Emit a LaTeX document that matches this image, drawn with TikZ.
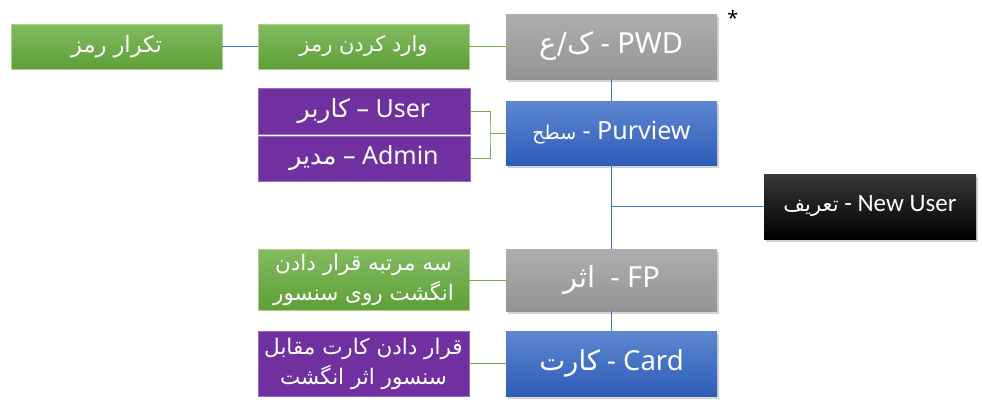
\documentclass[tikz,border=0pt]{standalone}
\usepackage{fontspec}
\setmainfont{Noto Sans}
\newfontfamily\arabicfont[Script=Arabic]{DejaVu Sans}
\newfontfamily\latinb{Carlito}
\TeXXeTstate=1
\usetikzlibrary{shadows,calc}
\newcommand{\ar}[1]{{\arabicfont\beginR #1\endR}}
\definecolor{gtop}{HTML}{82BB61}
\definecolor{gbot}{HTML}{5E9F37}
\definecolor{gbrd}{HTML}{A9D18E}
\definecolor{grtop}{HTML}{AEAEAE}
\definecolor{grbot}{HTML}{949494}
\definecolor{btop}{HTML}{5E87D1}
\definecolor{bbot}{HTML}{2E5DB8}
\definecolor{purp}{HTML}{7030A0}
\definecolor{pbrd}{HTML}{9A6CC0}
\definecolor{glin}{HTML}{70AD47}
\definecolor{blin}{HTML}{4472C4}
\tikzset{
  box/.style={inner sep=0pt, minimum width=211pt, text=white, align=center, anchor=center},
  greenbox/.style={box, top color=gtop, bottom color=gbot, draw=gbrd, line width=0.4pt},
  graybox/.style={box, top color=grtop, bottom color=grbot, drop shadow={opacity=0.35, shadow xshift=1.5pt, shadow yshift=-3pt}},
  bluebox/.style={box, top color=btop, bottom color=bbot, drop shadow={opacity=0.35, shadow xshift=1.5pt, shadow yshift=-3pt}},
  blackbox/.style={box, top color=black!78, bottom color=black, drop shadow={opacity=0.35, shadow xshift=1.5pt, shadow yshift=-3pt}},
  purpbox/.style={box, fill=purp, draw=pbrd, line width=0.4pt},
  gline/.style={draw=glin, line width=0.9pt},
  bline/.style={draw=blin, line width=0.9pt},
  bigfont/.style={font=\fontsize{29}{32}\selectfont},
  cardfont/.style={font=\fontsize{27.5}{32}\selectfont},
  pvfont/.style={font=\fontsize{25}{30}\selectfont},
  subfont/.style={font=\fontsize{25}{30}\selectfont},
  notefont/.style={font=\fontsize{21.5}{30}\selectfont},
}
\begin{document}
\begin{tikzpicture}[x=1pt,y=-1pt]
\useasboundingbox (0,0) rectangle (982,399);
% main column
\node[graybox, bigfont, minimum height=65pt] (pwd) at (611.5,46.5) {\ar{ک/ع} - PWD};
\node[bluebox, pvfont, minimum height=64pt] (purview) at (611.5,133) {{\fontsize{19}{22}\selectfont\ar{سطح}} - Purview};
\node[graybox, bigfont, minimum height=62pt] (fp) at (611.5,280) {\ar{اثر} \ - FP};
\node[bluebox, cardfont, minimum height=65pt] (card) at (611.5,363.5) {\ar{کارت} - Card};
\node[blackbox, minimum width=212pt, minimum height=65pt, font=\latinb\fontsize{25}{28}\selectfont] (newuser) at (870,206.5) {{\arabicfont\fontsize{21}{28}\selectfont\beginR تعریف\endR} - New User};
% left side
\node[greenbox, font=\fontsize{21}{26}\selectfont, minimum height=45pt] (pwdnote) at (363.5,46.5) {\ar{وارد کردن رمز}};
\node[greenbox, font=\fontsize{22.5}{26}\selectfont, minimum height=45pt] (rep) at (116.5,46.5) {\ar{تکرار رمز}};
\node[purpbox, subfont, minimum width=212pt, minimum height=46pt] (user) at (364,111) {\ar{کاربر} -- User};
\node[purpbox, subfont, minimum width=212pt, minimum height=45pt] (admin) at (364,158.5) {\ar{مدیر} -- Admin};
\node[greenbox, notefont, minimum height=61pt] (fpnote) at (363.5,280) {\ar{سه مرتبه قرار دادن}\\\ar{انگشت روی سنسور}};
\node[purpbox, notefont, minimum height=65pt] (cardnote) at (363.5,363.5) {\ar{قرار دادن کارت مقابل}\\\ar{سنسور اثر انگشت}};
\node[font=\bfseries\fontsize{20}{20}\selectfont, inner sep=0pt] (star) at (733,18) {*};
% connectors
\draw[gline] (pwd.west) -- (pwdnote.east);
\draw[bline] (pwdnote.west) -- (rep.east);
\draw[bline] (pwd.south) -- (purview.north);
\draw[bline] (purview.south) -- (fp.north);
\coordinate (j) at (purview.south |- newuser.west);
\draw[bline] (j) -- (newuser.west);
\draw[bline] (fp.south) -- (card.north);
\coordinate (bx) at (490,133);
\draw[gline] (user.east) -| (bx) |- (admin.east);
\draw[gline] (bx) -- (purview.west);
\draw[gline] (fp.west) -- (fpnote.east);
\draw[gline] (card.west) -- (cardnote.east);
\end{tikzpicture}
\end{document}
